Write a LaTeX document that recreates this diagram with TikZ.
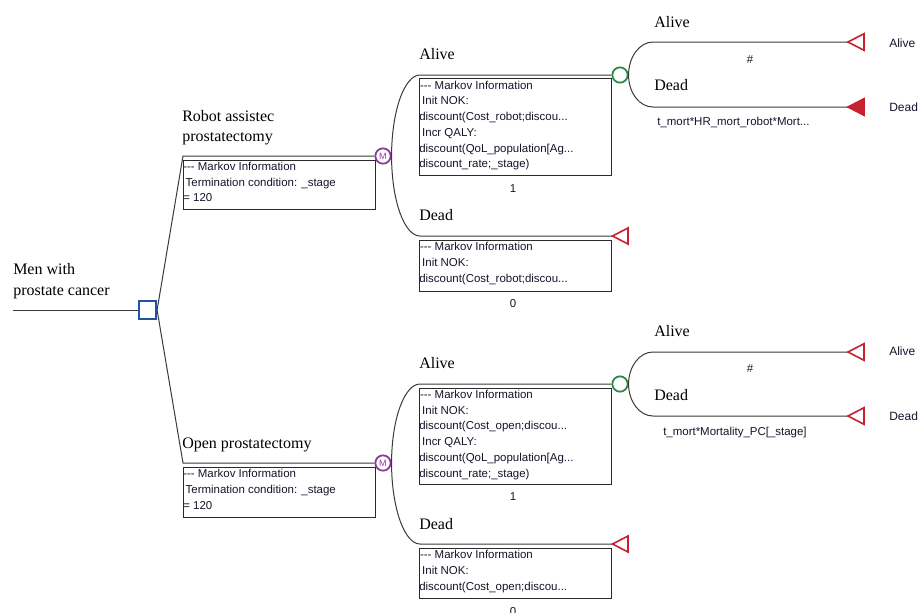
\documentclass[tikz,border=0pt]{standalone}
\usepackage{fontspec}
\setmainfont{Liberation Serif}
\setsansfont{Liberation Sans}
\definecolor{lc}{HTML}{3A3A3A}
\definecolor{bc}{HTML}{2A2A2A}
\definecolor{sqblue}{HTML}{2352A5}
\definecolor{mpurple}{HTML}{8E3A9D}
\definecolor{cgreen}{HTML}{2A8A4A}
\definecolor{tred}{HTML}{C8202F}
\definecolor{txt}{HTML}{14142A}
\newcommand{\mkdash}{{-}{-}{-}}
\begin{document}
\begin{tikzpicture}[x=0.75pt,y=-0.75pt,
  conn/.style={draw=lc,line width=0.75pt},
  decsq/.style={rectangle,draw=sqblue,line width=1.4pt,fill=white,minimum size=13pt,inner sep=0pt},
  markovc/.style={circle,draw=mpurple,line width=1.35pt,fill=white,minimum size=11.5pt,inner sep=0pt,text=mpurple,font=\sffamily\fontsize{6.8}{6.8}\selectfont},
  chancec/.style={circle,draw=cgreen,line width=1.35pt,fill=white,minimum size=11.5pt,inner sep=0pt},
  infobox/.style={rectangle,draw=bc,line width=0.8pt,inner sep=0pt,anchor=north west,minimum width=144pt},
  infotext/.style={anchor=north west,inner sep=0pt,align=left,text=txt,font=\sffamily\fontsize{8.6}{11.8}\selectfont},
  lbl/.style={inner sep=0pt,text=black,font=\fontsize{12}{15.4}\selectfont},
  small/.style={inner sep=0pt,text=txt,font=\sffamily\fontsize{8.6}{10}\selectfont},
  endlbl/.style={inner sep=0pt,text=txt,font=\sffamily\fontsize{9}{11}\selectfont,anchor=west},
  termopen/.style={draw=tred,line width=1.2pt,fill=white},
  termfill/.style={draw=tred,line width=1.2pt,fill=tred},
]
\useasboundingbox (0,0) rectangle (922,612);

% nodes
\coordinate (start) at (13,310);
\node[decsq] (sq) at (147.5,310) {};
\coordinate (r1) at (183,156);
\coordinate (r2) at (183,463);
\node[markovc] (m1) at (383,156) {M};
\node[markovc] (m2) at (383,463) {M};
\node[chancec] (g1) at (620,75) {};
\node[chancec] (g2) at (620,384) {};
\coordinate (a1) at (420,75);
\coordinate (d1) at (420,236);
\coordinate (a3) at (420,384);
\coordinate (d3) at (420,544);
\coordinate (a2) at (653,42);
\coordinate (d2) at (653,107);
\coordinate (a4) at (653,352);
\coordinate (d4) at (653,416);
\coordinate (t1) at (612.5,236);
\coordinate (t3) at (612.5,544);
\coordinate (t2a) at (848,42);
\coordinate (t2d) at (848,107);
\coordinate (t4a) at (848,352);
\coordinate (t4d) at (848,416);

% info boxes
\node[infobox,minimum height=37.1pt] (bm1) at (183,159.5) {};
\node[infobox,minimum height=37.5pt] (bm2) at (183,467) {};
\node[infobox,minimum height=72.9pt] (ba1) at (419,78.2) {};
\node[infobox,minimum height=37.9pt] (bd1) at (419,240) {};
\node[infobox,minimum height=72.5pt] (ba3) at (419,387.5) {};
\node[infobox,minimum height=37.6pt] (bd3) at (419,548) {};

\node[infotext] (tm1) at (bm1.north west) {\rule{0pt}{8pt}\mkdash{} Markov Information\\\hspace*{1.8pt}Termination condition: \_stage\\= 120};
\node[infotext] (tm2) at (bm2.north west) {\rule{0pt}{8pt}\mkdash{} Markov Information\\\hspace*{1.8pt}Termination condition: \_stage\\= 120};
\node[infotext] (ta1) at (ba1.north west) {\rule{0pt}{8pt}\hspace*{0.6pt}\mkdash{} Markov Information\\\hspace*{2.2pt}Init NOK:\\discount(Cost\_robot;discou...\\\hspace*{2.2pt}Incr QALY:\\discount(QoL\_population[Ag...\\discount\_rate;\_stage)};
\node[infotext] (td1) at (bd1.north west) {\rule{0pt}{8pt}\hspace*{0.6pt}\mkdash{} Markov Information\\\hspace*{2.2pt}Init NOK:\\discount(Cost\_robot;discou...};
\node[infotext] (ta3) at (ba3.north west) {\rule{0pt}{8pt}\hspace*{0.6pt}\mkdash{} Markov Information\\\hspace*{2.2pt}Init NOK:\\discount(Cost\_open;discou...\\\hspace*{2.2pt}Incr QALY:\\discount(QoL\_population[Ag...\\discount\_rate;\_stage)};
\node[infotext] (td3) at (bd3.north west) {\rule{0pt}{8pt}\hspace*{0.6pt}\mkdash{} Markov Information\\\hspace*{2.2pt}Init NOK:\\discount(Cost\_open;discou...};

% connectors
\draw[conn] (start) -- (sq.west);
\draw[conn] (sq.east) -- (r1) -- (m1.west);
\draw[conn] (sq.east) -- (r2) -- (m2.west);
\draw[conn] (m1.east) .. controls +(0,-45) and +(-15.5,0) .. (a1) -- (g1.west);
\draw[conn] (m1.east) .. controls +(0,45) and +(-15.5,0) .. (d1) -- (t1);
\draw[conn] (m2.east) .. controls +(0,-44) and +(-15.5,0) .. (a3) -- (g2.west);
\draw[conn] (m2.east) .. controls +(0,45) and +(-15.5,0) .. (d3) -- (t3);
\draw[conn] (g1.east) .. controls +(0,-18) and +(-13.5,0) .. (a2) -- (t2a);
\draw[conn] (g1.east) .. controls +(0,18) and +(-13.5,0) .. (d2) -- (t2d);
\draw[conn] (g2.east) .. controls +(0,-17.5) and +(-13.5,0) .. (a4) -- (t4a);
\draw[conn] (g2.east) .. controls +(0,17.5) and +(-13.5,0) .. (d4) -- (t4d);

% terminal triangles
\draw[termopen] (t1) -- ++(15.5,-8) -- ++(0,16) -- cycle;
\draw[termopen] (t3) -- ++(15.5,-8) -- ++(0,16) -- cycle;
\draw[termopen] (t2a) -- ++(16,-8.3) -- ++(0,16.6) -- cycle;
\draw[termfill] (t2d) -- ++(16,-8.3) -- ++(0,16.6) -- cycle;
\draw[termopen] (t4a) -- ++(16,-8.3) -- ++(0,16.6) -- cycle;
\draw[termopen] (t4d) -- ++(16,-8.3) -- ++(0,16.6) -- cycle;

% labels
\node[lbl,align=left,anchor=north west] (lroot) at (13,261) {\rule{0pt}{10pt}Men with\\prostate cancer};
\node[lbl,align=left,anchor=north west] (lrob) at (182,107.4) {\rule{0pt}{10pt}Robot assistec\\prostatectomy};
\node[lbl,anchor=base west] (lopen) at (182,448.3) {Open prostatectomy};
\node[lbl,anchor=base west] (la1) at (419,59) {Alive};
\node[lbl,anchor=base west] (ld1) at (419,220.7) {Dead};
\node[lbl,anchor=base west] (la3) at (419,368) {Alive};
\node[lbl,anchor=base west] (ld3) at (419,529) {Dead};
\node[lbl,anchor=base west] (la2) at (654,27) {Alive};
\node[lbl,anchor=base west] (ld2) at (654,90) {Dead};
\node[lbl,anchor=base west] (la4) at (654,336) {Alive};
\node[lbl,anchor=base west] (ld4) at (654,400) {Dead};

\node[small] (p1) at (513,189) {1};
\node[small] (p0) at (513,304) {0};
\node[small] (p1b) at (513,497) {1};
\node[small] (p0b) at (513,611.5) {0};
\node[small] (h1) at (750,60) {\#};
\node[small] (h2) at (750,369) {\#};
\node[small,anchor=west] (f1) at (657,122) {t\_mort*HR\_mort\_robot*Mort...};
\node[small,anchor=west] (f2) at (663,433) {t\_mort*Mortality\_PC[\_stage]};
\node[endlbl] (ra2) at (889,43.5) {Alive};
\node[endlbl] (rd2) at (889,107) {Dead};
\node[endlbl] (ra4) at (889,351) {Alive};
\node[endlbl] (rd4) at (889,416) {Dead};
\end{tikzpicture}
\end{document}
